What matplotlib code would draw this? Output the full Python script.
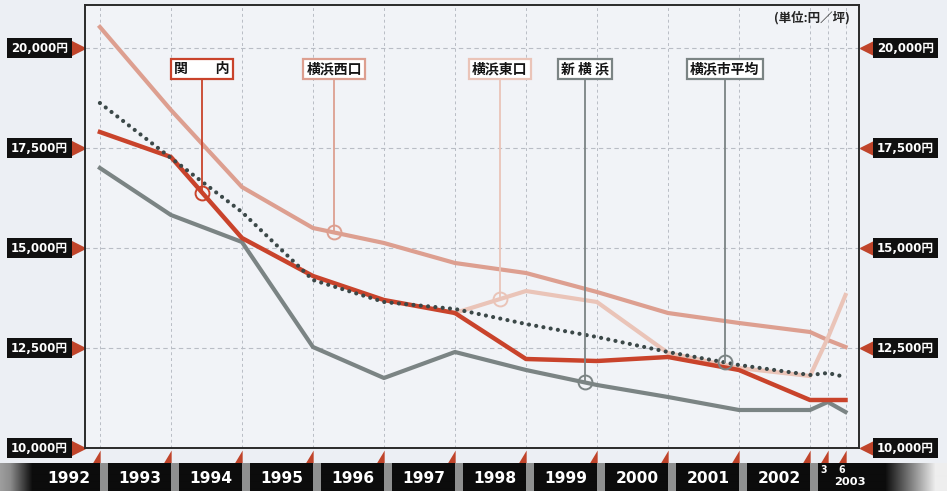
"""Land price per tsubo around Yokohama stations, 1992 - 2003/6."""

import numpy as np
import matplotlib

matplotlib.use("Agg")
import matplotlib.pyplot as plt  # noqa: E402
from matplotlib import font_manager, transforms  # noqa: E402
from matplotlib.patches import Rectangle  # noqa: E402

# x categories: the gridline for each label is the end of that period
periods = ["1992", "1993", "1994", "1995", "1996", "1997", "1998",
           "1999", "2000", "2001", "2002", "3", "6"]
t = [1993.0, 1994.0, 1995.0, 1996.0, 1997.0, 1998.0, 1999.0,
     2000.0, 2001.0, 2002.0, 2003.0, 2003.25, 2003.5]

# yen per tsubo
nishiguchi = [20525, 18450, 16525, 15500, 15125, 14625, 14375,
              13900, 13375, 13125, 12900, 12700, 12525]
higashiguchi = [np.nan, np.nan, np.nan, np.nan, np.nan, 13375, 13925,
                13650, 12375, 12000, 11800, 12750, 13825]
kannai = [17900, 17275, 15250, 14300, 13700, 13375, 12225,
          12175, 12275, 11950, 11200, 11200, 11200]
shin_yokohama = [17000, 15825, 15150, 12525, 11750, 12400, 11950,
                 11575, 11275, 10950, 10950, 11150, 10900]
city_avg = [18625, 17250, 15900, 14200, 13650, 13475, 13100,
            12775, 12400, 12075, 11825, 11875, 11775]

y_ticks = [10000, 12500, 15000, 17500, 20000]

# callout labels and where their leader line touches the series
ann_names = ["関　　内", "横浜西口", "横浜東口", "新 横 浜", "横浜市平均"]
ann_x = [1994.44, 1996.30, 1998.63, 1999.83, 2001.80]
ann_label_y = 19475

BG = "#eceff4"
RED = "#c9432b"
SALMON = "#dd9f90"
PALE = "#eac4b8"
GREY = "#7b8484"
DOTS = "#3b4848"


def has_font(name):
    try:
        font_manager.findfont(font_manager.FontProperties(family=name),
                              fallback_to_default=False)
        return True
    except ValueError:
        return False


NARROW = "Liberation Sans Narrow" if has_font("Liberation Sans Narrow") else "DejaVu Sans"
JP = "Noto Sans CJK JP"
num_scale = 1.0 if NARROW != "DejaVu Sans" else 0.86

fig = plt.figure(figsize=(9.47, 4.91), dpi=100, facecolor=BG)
ax = fig.add_axes([85 / 947, 1 - 448 / 491, 774 / 947, 443 / 491])
ax.set_facecolor("#f1f3f7")
ax.set_xlim(1992.79, 2003.69)
ax.set_ylim(10000, 21075)
ax.set_xticks([])
ax.set_yticks([])
for s in ax.spines.values():
    s.set_color("#2a2a2a")
    s.set_linewidth(1.4)

# dashed grid
for g in t:
    ax.axvline(g, color="#b9bdc5", lw=0.7, dashes=(3, 3), zorder=1)
for v in y_ticks[1:]:
    ax.axhline(v, color="#b9bdc5", lw=0.8, dashes=(4, 3), zorder=1)

# series
ax.plot(t, shin_yokohama, color=GREY, lw=3, solid_joinstyle="round", zorder=3)
ax.plot(t, nishiguchi, color=SALMON, lw=3, solid_joinstyle="round", zorder=3)
ax.plot(t, higashiguchi, color=PALE, lw=3, solid_joinstyle="round", zorder=3)
ax.plot(t, kannai, color=RED, lw=3.2, solid_joinstyle="round", zorder=4)
ax.plot(t, city_avg, color=DOTS, lw=3, linestyle=(0, (0.01, 1.75)),
        dash_capstyle="round", zorder=5)

# callouts
series_for_ann = [kannai, nishiguchi, higashiguchi, shin_yokohama, city_avg]
ann_colors = [RED, SALMON, PALE, GREY, GREY]
for name, x, ser, col in zip(ann_names, ann_x, series_for_ann, ann_colors):
    arr = np.array(ser, dtype=float)
    ok = ~np.isnan(arr)
    y = np.interp(x, np.array(t)[ok], arr[ok])
    ax.plot([x, x], [y, ann_label_y], color=col, lw=1.3, zorder=6)
    ax.plot([x], [y], marker="o", ms=10, mfc="none", mec=col, mew=1.4, zorder=6)
    ax.text(x, ann_label_y, name, ha="center", va="center", fontsize=10,
            fontweight="bold", family=[JP], color="#151515", zorder=7,
            bbox=dict(boxstyle="square,pad=0.24", fc="white", ec=col, lw=1.6))

ax.text(0.988, 0.972, "(単位:円／坪)", transform=ax.transAxes, ha="right",
        va="center", fontsize=9, fontweight="bold", family=[JP], color="#222")

# y labels on both sides
ytr = ax.get_yaxis_transform()
tl_txt = transforms.offset_copy(ytr, fig=fig, x=-17, y=0, units="dots")
tr_txt = transforms.offset_copy(ytr, fig=fig, x=18, y=0, units="dots")
tl_tri = transforms.offset_copy(ytr, fig=fig, x=-7, y=0, units="dots")
tr_tri = transforms.offset_copy(ytr, fig=fig, x=8, y=0, units="dots")
for v in y_ticks:
    lab = f"{v:,}円"
    kw = dict(va="center", color="white", fontweight="bold",
              fontsize=9.8 * num_scale, family=[NARROW, JP], clip_on=False,
              bbox=dict(boxstyle="square,pad=0.3", fc="#101010", ec="none"))
    ax.text(0, v, lab, transform=tl_txt, ha="right", **kw)
    ax.text(1, v, lab, transform=tr_txt, ha="left", **kw)
ax.plot([0] * len(y_ticks), y_ticks, ls="none", marker=">", ms=10,
        color="#c0442a", transform=tl_tri, clip_on=False)
ax.plot([1] * len(y_ticks), y_ticks, ls="none", marker="<", ms=10,
        color="#c0442a", transform=tr_tri, clip_on=False)

# red flags under each period gridline
flag = [(0.6, 1), (0.6, -1), (-0.6, -1), (0.6, 1)]
xtr = transforms.offset_copy(ax.get_xaxis_transform(), fig=fig, x=-4, y=-9,
                             units="dots")
ax.plot(t, [0] * len(t), ls="none", marker=flag, ms=10, color="#c0442a",
        mec="none", transform=xtr, clip_on=False)

# period band along the bottom
band = fig.add_axes([0, 0, 1, 28 / 491])
band.set_xlim(0, 947)
band.set_ylim(0, 1)
band.axis("off")
cols = np.arange(947)
shade = np.interp(cols, [0, 10, 32, 885, 935], [0.62, 0.55, 0.05, 0.05, 0.93])
band.imshow(shade[None, :], cmap="gray", vmin=0, vmax=1, aspect="auto",
            extent=(0, 947, 0, 1), interpolation="bilinear")
px = [ax.transData.transform((g, 0))[0] for g in t]
for p in px[:11]:
    band.add_patch(Rectangle((p, 0), 8, 1, fc="#8f9090", ec="none"))
for lab, p in zip(periods[:11], px[:11]):
    band.text(p - 31, 0.44, lab, ha="center", va="center", color="white",
              fontsize=13 * num_scale, fontweight="bold", family=[NARROW])
for lab, p in zip(periods[11:], px[11:]):
    band.text(p - 4, 0.76, lab, ha="center", va="center", color="white",
              fontsize=8 * num_scale, fontweight="bold", family=[NARROW])
band.text(px[-1] + 4, 0.33, "2003", ha="center", va="center", color="white",
          fontsize=9.5 * num_scale, fontweight="bold", family=[NARROW])

fig.savefig("out.png", dpi=100, facecolor=BG)
